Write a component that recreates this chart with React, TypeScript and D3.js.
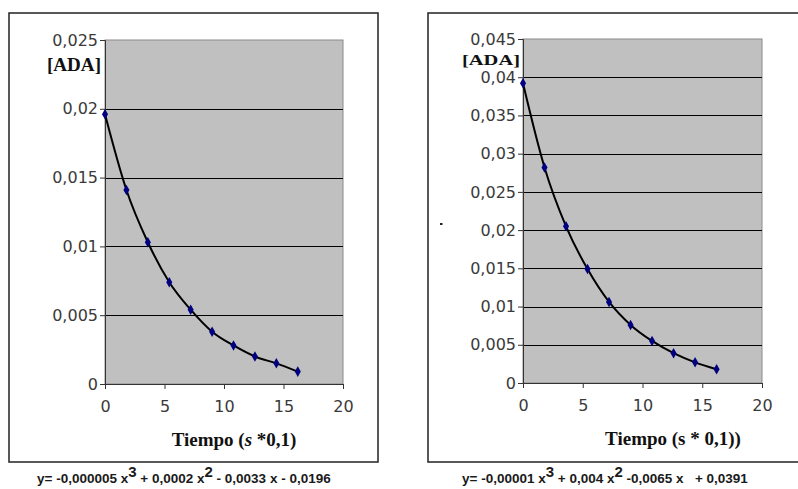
import React, {useEffect, useRef} from "react";
import * as d3 from "d3";

// tiempo (s * 0,1)
const tiempo = [0, 1.8, 3.6, 5.4, 7.2, 9, 10.8, 12.6, 14.4, 16.2];

// [ADA] left chart
const adaA = [0.0196, 0.0141, 0.0103, 0.0074, 0.0054, 0.0038, 0.0028, 0.0020, 0.0015, 0.0009];
// [ADA] right chart
const adaB = [0.0392, 0.0282, 0.0205, 0.0149, 0.0106, 0.0076, 0.0055, 0.0039, 0.0027, 0.0018];

const xTicks = [0, 5, 10, 15, 20];
const yTicksA = [0, 0.005, 0.01, 0.015, 0.02, 0.025];
const yTicksB = [0, 0.005, 0.01, 0.015, 0.02, 0.025, 0.03, 0.035, 0.04, 0.045];

const fmt = (d: number) => String(+d.toFixed(3)).replace(".", ",");

type Part = {t: string, sup?: boolean, italic?: boolean};

type ChartProps = {
    values: number[],
    yTicks: number[],
    frame: {x: number, y: number, w: number, h: number},
    plot: {x0: number, x1: number, y0: number, y1: number},
    ada: {x: number, y: number, size: number, len: number},
    title: {x: number, y: number, parts: Part[]},
    formula: {x: number, y: number, parts: Part[]},
};

const drawChart = (svg: any, p: ChartProps) => {
    const g = svg.append("g");

    const x = d3.scaleLinear().domain([0, 20]).range([p.plot.x0, p.plot.x1]);
    const y = d3.scaleLinear().domain([0, d3.max(p.yTicks) as number]).range([p.plot.y1, p.plot.y0]);

    // outer frame
    g.append("rect")
        .attr("x", p.frame.x).attr("y", p.frame.y)
        .attr("width", p.frame.w).attr("height", p.frame.h)
        .attr("fill", "white").attr("stroke", "#222").attr("stroke-width", 1.5);

    // plot area
    g.append("rect")
        .attr("x", p.plot.x0).attr("y", p.plot.y0)
        .attr("width", p.plot.x1 - p.plot.x0).attr("height", p.plot.y1 - p.plot.y0)
        .attr("fill", "#c0c0c0").attr("stroke", "#8a8a8a").attr("stroke-width", 1);

    // gridlines
    g.selectAll(".grid")
        .data(p.yTicks.filter((d, i) => i > 0 && i < p.yTicks.length - 1))
        .enter().append("line")
        .attr("x1", p.plot.x0).attr("x2", p.plot.x1)
        .attr("y1", (d: number) => Math.round(y(d)) + 0.5).attr("y2", (d: number) => Math.round(y(d)) + 0.5)
        .attr("stroke", "#000").attr("stroke-width", 1);

    // y axis
    const yAxis = d3.axisLeft(y).tickValues(p.yTicks).tickFormat((d: any) => fmt(d)).tickSize(5).tickPadding(2);
    const ya = g.append("g").attr("transform", `translate(${p.plot.x0},0)`).call(yAxis);
    ya.select(".domain").attr("stroke", "#333");
    ya.selectAll(".tick line").attr("stroke", "#333");
    ya.selectAll("text").attr("font-family", "DejaVu Sans").attr("font-size", 16).attr("fill", "#3a3a3a");

    // x axis
    const xAxis = d3.axisBottom(x).tickValues(xTicks).tickFormat((d: any) => String(d)).tickSize(5).tickPadding(12);
    const xa = g.append("g").attr("transform", `translate(0,${p.plot.y1})`).call(xAxis);
    xa.select(".domain").attr("stroke", "#333");
    xa.selectAll(".tick line").attr("stroke", "#333");
    xa.selectAll("text").attr("font-family", "DejaVu Sans").attr("font-size", 16).attr("fill", "#3a3a3a");

    // curve
    const pts = tiempo.map((t, i) => [t, p.values[i]] as [number, number]);
    const line = d3.line<[number, number]>()
        .x(d => x(d[0])).y(d => y(d[1]))
        .curve(d3.curveMonotoneX);
    g.append("path").attr("d", line(pts))
        .attr("fill", "none").attr("stroke", "#000").attr("stroke-width", 2);

    // markers
    const diamond = d3.symbol().type(d3.symbolDiamond).size(32);
    g.selectAll(".pt").data(pts).enter().append("path")
        .attr("d", diamond)
        .attr("transform", (d: [number, number]) => `translate(${x(d[0])},${y(d[1])})`)
        .attr("fill", "#000080");

    // [ADA]
    g.append("text").attr("x", p.ada.x).attr("y", p.ada.y)
        .attr("text-anchor", "end")
        .attr("font-family", "Liberation Serif").attr("font-weight", "bold").attr("font-size", p.ada.size)
        .attr("textLength", p.ada.len).attr("lengthAdjust", "spacingAndGlyphs")
        .attr("fill", "#111").text("[ADA]");

    // axis title
    const tt = g.append("text").attr("x", p.title.x).attr("y", p.title.y)
        .attr("text-anchor", "middle")
        .attr("font-family", "Liberation Serif").attr("font-weight", "bold").attr("font-size", 19)
        .attr("fill", "#111").style("white-space", "pre");
    p.title.parts.forEach(part => {
        tt.append("tspan").attr("font-style", part.italic ? "italic" : "normal").text(part.t);
    });

    // formula
    const ft = g.append("text").attr("x", p.formula.x).attr("y", p.formula.y)
        .attr("font-family", "Liberation Sans").attr("font-weight", "bold").attr("font-size", 13.5)
        .attr("fill", "#1a1a1a").style("white-space", "pre");
    let up = false;
    p.formula.parts.forEach(part => {
        const s = ft.append("tspan").text(part.t);
        if (part.sup && !up) { s.attr("dy", -6); up = true; }
        else if (!part.sup && up) { s.attr("dy", 6); up = false; }
        if (part.sup) s.attr("font-size", 15);
    });
};

const App = () => {
    const ref = useRef<SVGSVGElement>(null);

    useEffect(() => {
        if (!ref.current) return;
        const svg = d3.select(ref.current);
        svg.selectAll("*").remove();

        svg.append("rect").attr("width", 798).attr("height", 489).attr("fill", "white");

        drawChart(svg, {
            values: adaA,
            yTicks: yTicksA,
            frame: {x: 9, y: 13, w: 369, h: 449},
            plot: {x0: 105, x1: 343, y0: 40, y1: 384},
            ada: {x: 101, y: 71, size: 18, len: 54},
            title: {x: 234, y: 446, parts: [{t: "Tiempo ("}, {t: "s", italic: true}, {t: " *0,1)"}]},
            formula: {x: 37, y: 483, parts: [
                {t: "y= -0,000005 x"}, {t: "3", sup: true}, {t: " + 0,0002 x"}, {t: "2", sup: true},
                {t: " - 0,0033 x - 0,0196"}]},
        });

        drawChart(svg, {
            values: adaB,
            yTicks: yTicksB,
            frame: {x: 428, y: 13, w: 380, h: 449},
            plot: {x0: 523, x1: 762, y0: 39, y1: 383},
            ada: {x: 520, y: 65, size: 15.5, len: 58},
            title: {x: 673, y: 445, parts: [{t: "Tiempo (s * 0,1))"}]},
            formula: {x: 462, y: 483, parts: [
                {t: "y= -0,00001 x"}, {t: "3", sup: true}, {t: " + 0,004 x"}, {t: "2", sup: true},
                {t: " -0,0065 x   + 0,0391"}]},
        });

        // stray mark left of the right chart
        svg.append("rect").attr("x", 440).attr("y", 223).attr("width", 2.5).attr("height", 2).attr("fill", "#222");
    }, [ref]);

    return (
        <svg ref={ref} width={798} height={489} style={{position: "absolute", left: 0, top: 0}}></svg>
    );
};

export default App;
